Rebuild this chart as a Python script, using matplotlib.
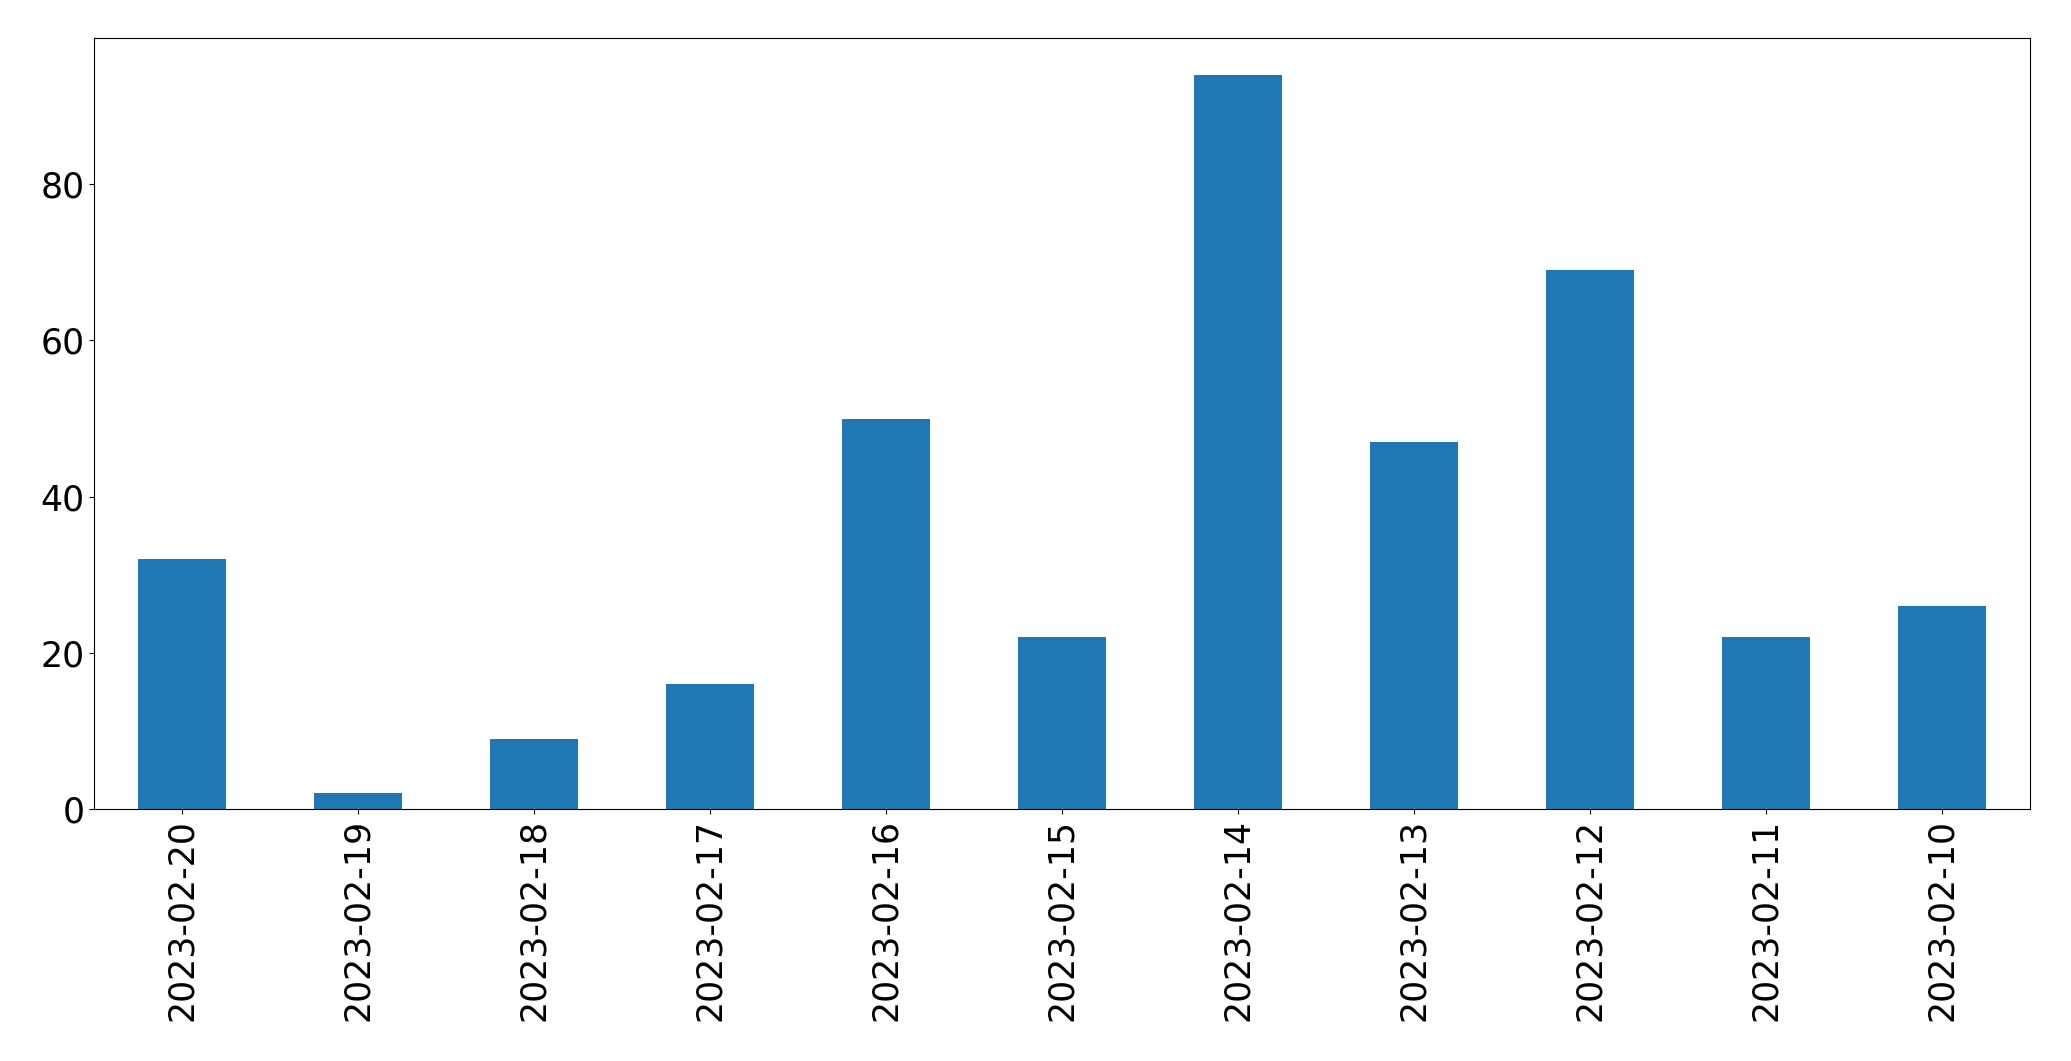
import matplotlib
matplotlib.use('Agg')
import matplotlib.pyplot as plt
import pandas as pd

# 日期和数量
dates = ['2023-02-20', '2023-02-19', '2023-02-18', '2023-02-17', '2023-02-16', '2023-02-15',
         '2023-02-14', '2023-02-13', '2023-02-12', '2023-02-11', '2023-02-10']
counts = [32, 2, 9, 16, 50, 22, 94, 47, 69, 22, 26]

s = pd.Series(counts, index=dates)

fig = plt.figure(figsize=(20.71, 10.61), dpi=100)
ax = fig.add_axes([0.0454, 0.2375, 0.9346, 0.7265])
s.plot(kind='bar', ax=ax, color='#1f77b4', fontsize=25)
ax.tick_params(axis='both', labelsize=25)

fig.savefig('out.png', dpi=100)
plt.close()
